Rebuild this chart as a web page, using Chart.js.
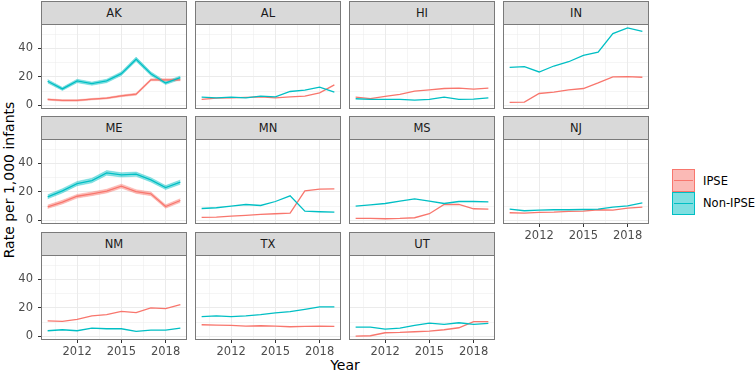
<!DOCTYPE html>
<html lang="en">
<head>
<meta charset="UTF-8">
<title>Rate per 1,000 infants by state</title>
<script src="https://cdn.jsdelivr.net/npm/chart.js"></script>
<style>
  body { margin: 0; background: #fff; font-family: 'DejaVu Sans', sans-serif; }
  #wrap { position: relative; width: 756px; height: 373px; overflow: hidden; }
  canvas { position: absolute; }
  .strip { position: absolute; box-sizing: border-box; width: 146px; height: 24px; background: #d9d9d9;
           border: 1px solid #7a7a7a; color: #1a1a1a; font-size: 11.5px; text-align: center; line-height: 22px; }
  .title { position: absolute; color: #000; font-size: 14px; white-space: nowrap; }
  .key { position: absolute; left: 672px; width: 23px; height: 23px; box-sizing: border-box; border: 1.5px solid; }
  .key i { position: absolute; left: 1px; right: 1px; top: 9.5px; height: 1.3px; }
  .lab { position: absolute; left: 703px; font-size: 11.5px; color: #000; line-height: 14px; }
</style>
</head>
<body>
<div id="wrap">
  <div class="title" style="left:9px;top:180px;transform:translate(-50%,-50%) rotate(-90deg);">Rate per 1,000 infants</div>
  <div class="title" style="left:345px;top:365px;transform:translate(-50%,-50%);">Year</div>
  <div class="key" style="top:169px;border-color:#F8766D;background:rgba(248,118,109,0.5)"><i style="background:#F8766D"></i></div>
  <div class="key" style="top:192px;border-color:#00BFC4;background:rgba(0,191,196,0.5)"><i style="background:#00BFC4"></i></div>
  <div class="lab" style="top:174px">IPSE</div>
  <div class="lab" style="top:196px">Non-IPSE</div>
</div>

<script>
// data
const years = [2010, 2011, 2012, 2013, 2014, 2015, 2016, 2017, 2018, 2019];
const states = ['AK', 'AL', 'HI', 'IN', 'ME', 'MN', 'MS', 'NJ', 'NM', 'TX', 'UT'];

const ipseRates = [
  [4.2, 3.5, 3.5, 4.4, 5.1, 6.7, 7.9, 18.0, 18.0, 18.0],   // AK
  [4.2, 5.1, 5.3, 5.6, 6.0, 5.3, 6.0, 6.5, 8.8, 14.4],     // AL
  [5.8, 4.8, 6.3, 7.7, 10.0, 10.9, 11.9, 12.1, 11.4, 12.1],// HI
  [2.1, 2.3, 8.4, 9.3, 10.9, 11.9, 15.8, 20.0, 20.2, 19.8],// IN
  [9.6, 12.9, 17.0, 18.7, 20.6, 24.1, 20.3, 18.7, 9.8, 14.0], // ME
  [2.1, 2.3, 3.0, 3.5, 4.2, 4.7, 5.1, 20.8, 22.0, 22.2],   // MN
  [1.4, 1.4, 1.2, 1.4, 1.9, 4.7, 11.2, 11.2, 8.2, 7.9],    // MS
  [5.4, 5.1, 5.6, 5.8, 6.3, 6.5, 7.5, 7.2, 8.6, 9.3],      // NJ
  [11.0, 10.6, 12.0, 14.4, 15.3, 17.6, 16.7, 20.0, 19.5, 22.4], // NM
  [8.2, 8.0, 7.8, 7.3, 7.5, 7.3, 6.8, 7.1, 7.3, 7.1],      // TX
  [0.2, 0.5, 2.6, 2.8, 3.3, 3.8, 4.7, 6.1, 10.4, 10.4]     // UT
];
const nonIpseRates = [
  [17.0, 11.6, 17.2, 15.3, 17.2, 22.3, 32.5, 22.3, 15.8, 19.5], // AK
  [5.8, 5.3, 5.8, 5.3, 6.5, 6.0, 9.8, 10.7, 12.8, 9.3],    // AL
  [4.7, 4.2, 4.2, 4.2, 3.7, 4.2, 5.8, 4.2, 4.4, 5.3],      // HI
  [26.7, 27.2, 23.5, 27.7, 30.7, 35.1, 37.4, 50.5, 54.4, 52.1], // IN
  [16.6, 20.8, 25.9, 28.0, 33.4, 32.0, 32.5, 28.5, 23.1, 26.9], // ME
  [8.4, 8.9, 10.0, 11.2, 10.5, 13.3, 17.3, 6.5, 6.1, 5.8], // MN
  [10.0, 11.0, 11.9, 13.6, 15.2, 13.6, 11.9, 13.3, 13.3, 13.1], // MS
  [7.9, 6.8, 7.2, 7.5, 7.5, 7.7, 7.9, 9.3, 10.3, 12.4],    // NJ
  [4.0, 4.7, 4.0, 5.9, 5.4, 5.4, 3.5, 4.5, 4.5, 5.9],      // NM
  [13.9, 14.4, 13.9, 14.4, 15.3, 16.5, 17.4, 19.0, 20.7, 20.7], // TX
  [6.6, 6.6, 5.2, 5.9, 7.8, 9.4, 8.5, 9.6, 8.5, 9.2]       // UT
];

// confidence bands that are wide enough to see
const akNonLo = [15.8, 10.5, 16.0, 14.2, 16.0, 21.0, 31.0, 21.0, 14.7, 18.3];
const akNonHi = [18.2, 12.7, 18.4, 16.4, 18.4, 23.6, 34.0, 23.6, 16.9, 20.7];
const akIpseLo = [3.7, 3.0, 3.0, 3.9, 4.6, 6.1, 7.2, 17.3, 17.3, 17.3];
const akIpseHi = [4.7, 4.0, 4.0, 4.9, 5.6, 7.3, 8.6, 18.7, 18.7, 18.7];
const meNonLo = [15.2, 19.3, 24.4, 26.4, 31.8, 30.5, 31.0, 27.0, 21.7, 25.4];
const meNonHi = [18.0, 22.3, 27.4, 29.6, 35.0, 33.5, 34.0, 30.0, 24.5, 28.4];
const meIpseLo = [8.4, 11.6, 15.7, 17.4, 19.3, 22.7, 19.0, 17.4, 8.6, 12.7];
const meIpseHi = [10.8, 14.2, 18.3, 20.0, 21.9, 25.5, 21.6, 20.0, 11.0, 15.3];
const bands = {
  AK: { ipse: [akIpseLo, akIpseHi], non: [akNonLo, akNonHi] },
  ME: { ipse: [meIpseLo, meIpseHi], non: [meNonLo, meNonHi] }
};

const xGrid = [2010.5, 2012, 2013.5, 2015, 2016.5, 2018];
const xLabels = [2012, 2015, 2018];
const yGrid = [0, 10, 20, 30, 40, 50];
const yLabels = [0, 20, 40];

const RED = '#F8766D', TEAL = '#00BFC4';
const colLeft = [41, 195, 349, 503], rowTop = [1, 116, 232];
const stripH = 23, panelW = 146, panelH = 85;
const tickFont = { family: "'DejaVu Sans'", size: 11.5 };

const pts = arr => arr.map((v, i) => ({ x: years[i], y: v }));

const panelBorder = {
  id: 'panelBorder',
  afterDraw(chart) {
    const a = chart.chartArea, c = chart.ctx;
    c.save();
    c.strokeStyle = '#7a7a7a';
    c.lineWidth = 1;
    c.strokeRect(Math.round(a.left) + 0.5, Math.round(a.top) + 0.5, Math.round(a.right - a.left) - 1, Math.round(a.bottom - a.top) - 1);
    c.restore();
  }
};

const wrap = document.getElementById('wrap');

states.forEach((st, i) => {
  const r = Math.floor(i / 4), c = i % 4;
  const showY = c === 0;
  const showX = i >= 7;

  const strip = document.createElement('div');
  strip.className = 'strip';
  strip.style.left = colLeft[c] + 'px';
  strip.style.top = rowTop[r] + 'px';
  strip.textContent = st;
  wrap.appendChild(strip);

  const left = showY ? 0 : colLeft[c];
  const top = rowTop[r] + stripH;
  const cv = document.createElement('canvas');
  cv.width = colLeft[c] + panelW - left;
  cv.height = panelH + (showX ? 22 : 0);
  cv.style.left = left + 'px';
  cv.style.top = top + 'px';
  wrap.appendChild(cv);

  const datasets = [];
  const b = bands[st];
  if (b) {
    [['ipse', '248,118,109'], ['non', '0,191,196']].forEach(([k, rgb]) => {
      datasets.push({ data: pts(b[k][0]), borderColor: 'rgba(' + rgb + ',0.5)', borderWidth: 0.6, fill: false, order: 3 });
      datasets.push({ data: pts(b[k][1]), borderColor: 'rgba(' + rgb + ',0.5)', borderWidth: 0.6,
                      backgroundColor: 'rgba(' + rgb + ',0.45)', fill: '-1', order: 3 });
    });
  }
  datasets.push({ data: pts(ipseRates[i]), borderColor: RED, borderWidth: 1.3, fill: false, order: 1 });
  datasets.push({ data: pts(nonIpseRates[i]), borderColor: TEAL, borderWidth: 1.3, fill: false, order: 0 });

  new Chart(cv, {
    type: 'line',
    data: { datasets },
    options: {
      responsive: false,
      animation: false,
      events: [],
      layout: { autoPadding: false, padding: 0 },
      elements: { point: { radius: 0 }, line: { tension: 0 } },
      plugins: { legend: { display: false }, tooltip: { enabled: false } },
      scales: {
        x: {
          type: 'linear', min: 2009.55, max: 2019.45,
          afterBuildTicks: s => { s.ticks = xGrid.map(v => ({ value: v })); },
          afterFit: s => { s.height = showX ? 22 : 0; s.paddingLeft = 0; s.paddingRight = 0; },
          border: { display: false },
          grid: {
            color: '#ebebeb',
            lineWidth: ctx => xLabels.includes(ctx.tick.value) ? 1 : 0.5,
            drawTicks: showX, tickLength: 3, tickWidth: 1,
            tickColor: ctx => xLabels.includes(ctx.tick.value) ? '#333333' : 'rgba(0,0,0,0)'
          },
          ticks: {
            display: showX, autoSkip: false, maxRotation: 0, padding: 2,
            color: '#4d4d4d', font: tickFont,
            callback: v => xLabels.includes(v) ? String(v) : ''
          }
        },
        y: {
          type: 'linear', min: -2.5, max: 57.2,
          afterBuildTicks: s => { s.ticks = yGrid.map(v => ({ value: v })); },
          afterFit: s => { s.width = showY ? 41 : 0; s.paddingTop = 0; s.paddingBottom = 0; },
          border: { display: false },
          grid: {
            color: '#ebebeb',
            lineWidth: ctx => yLabels.includes(ctx.tick.value) ? 1 : 0.5,
            drawTicks: showY, tickLength: 3, tickWidth: 1,
            tickColor: ctx => yLabels.includes(ctx.tick.value) ? '#333333' : 'rgba(0,0,0,0)'
          },
          ticks: {
            display: showY, autoSkip: false, padding: 5,
            color: '#4d4d4d', font: tickFont,
            callback: v => yLabels.includes(v) ? String(v) : ''
          }
        }
      }
    },
    plugins: [panelBorder]
  });
});
</script>
</body>
</html>
